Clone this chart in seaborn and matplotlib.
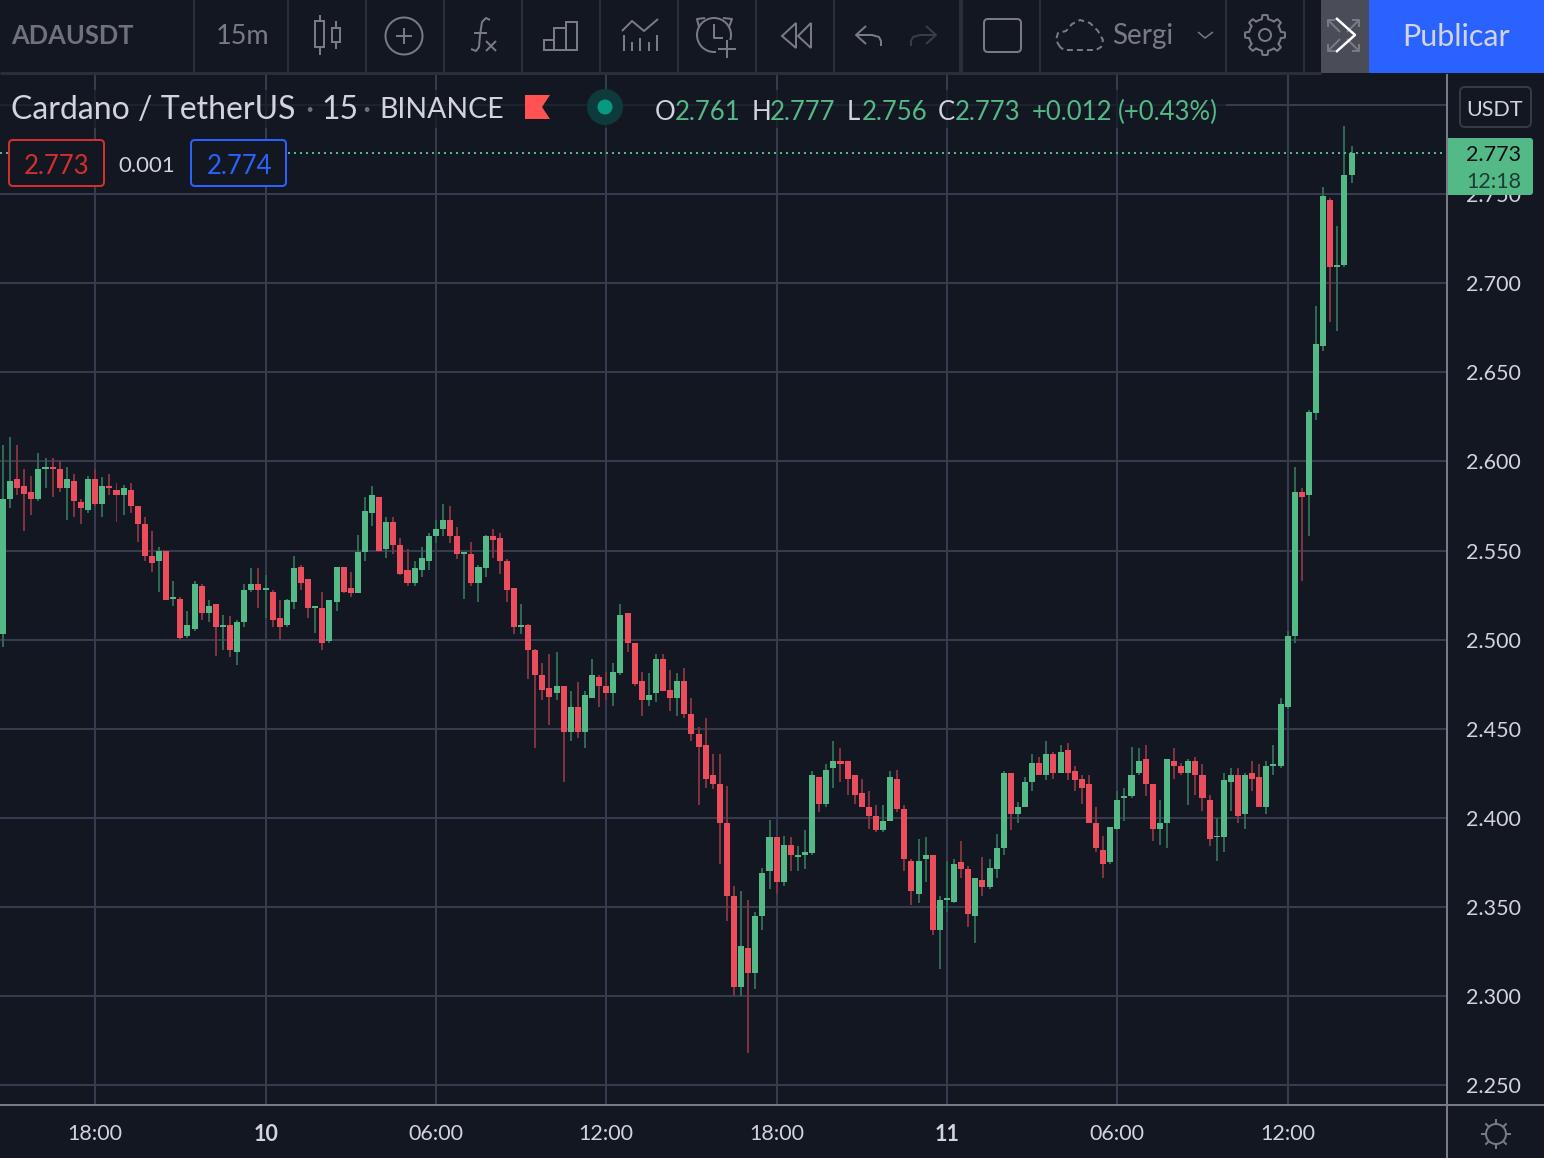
import numpy as np
import pandas as pd
import matplotlib
matplotlib.use("Agg")
import matplotlib.pyplot as plt
from matplotlib.patches import Rectangle, Circle, FancyBboxPatch, Polygon
import seaborn as sns

# ADAUSDT 15m candles
opens = [2.503,2.579,2.590,2.586,2.583,2.579,2.596,2.597,2.596,2.585,
         2.589,2.577,2.573,2.590,2.576,2.586,2.584,2.581,2.584,2.575,
         2.565,2.547,2.544,2.550,2.523,2.523,2.502,2.506,2.530,2.515,
         2.520,2.507,2.508,2.493,2.510,2.528,2.531,2.528,2.527,2.512,
         2.508,2.521,2.541,2.534,2.518,2.518,2.499,2.521,2.541,2.529,
         2.526,2.549,2.571,2.580,2.551,2.566,2.553,2.539,2.532,2.539,
         2.544,2.558,2.562,2.567,2.558,2.548,2.548,2.532,2.540,2.558,
         2.557,2.544,2.529,2.507,2.508,2.494,2.480,2.473,2.470,2.474,
         2.448,2.462,2.448,2.467,2.479,2.474,2.470,2.481,2.515,2.498,
         2.477,2.466,2.470,2.489,2.472,2.467,2.477,2.458,2.447,2.441,
         2.424,2.419,2.397,2.356,2.305,2.327,2.313,2.345,2.370,2.389,
         2.364,2.385,2.378,2.379,2.380,2.423,2.408,2.428,2.432,2.432,
         2.424,2.414,2.406,2.401,2.393,2.398,2.422,2.405,2.376,2.357,
         2.377,2.379,2.337,2.354,2.353,2.375,2.371,2.345,2.365,2.361,
         2.371,2.383,2.425,2.402,2.406,2.420,2.431,2.424,2.436,2.425,
         2.438,2.426,2.422,2.419,2.397,2.382,2.375,2.394,2.411,2.412,
         2.425,2.433,2.419,2.394,2.397,2.432,2.429,2.425,2.432,2.424,
         2.410,2.389,2.389,2.420,2.424,2.402,2.425,2.423,2.406,2.429,
         2.429,2.462,2.502,2.583,2.581,2.627,2.665,2.747,2.709,2.710,2.761]
highs = [2.609,2.614,2.609,2.596,2.592,2.605,2.602,2.602,2.600,2.597,
         2.593,2.579,2.592,2.596,2.591,2.593,2.588,2.587,2.588,2.575,
         2.569,2.561,2.552,2.550,2.533,2.524,2.516,2.533,2.531,2.522,
         2.520,2.514,2.513,2.511,2.531,2.540,2.540,2.536,2.528,2.522,
         2.523,2.547,2.542,2.534,2.519,2.527,2.522,2.541,2.541,2.538,
         2.559,2.580,2.586,2.580,2.569,2.569,2.557,2.551,2.544,2.552,
         2.560,2.567,2.576,2.575,2.563,2.549,2.555,2.542,2.559,2.562,
         2.560,2.545,2.529,2.520,2.509,2.495,2.487,2.492,2.493,2.474,
         2.471,2.476,2.471,2.489,2.480,2.482,2.487,2.520,2.515,2.498,
         2.482,2.481,2.492,2.492,2.483,2.481,2.484,2.467,2.451,2.456,
         2.436,2.436,2.418,2.362,2.359,2.354,2.347,2.372,2.399,2.389,
         2.390,2.389,2.384,2.393,2.426,2.423,2.430,2.443,2.439,2.432,
         2.424,2.422,2.415,2.407,2.407,2.426,2.427,2.407,2.377,2.388,
         2.389,2.379,2.356,2.376,2.377,2.387,2.373,2.366,2.378,2.377,
         2.391,2.426,2.425,2.409,2.423,2.436,2.434,2.443,2.437,2.441,
         2.442,2.429,2.424,2.424,2.406,2.390,2.395,2.415,2.417,2.440,
         2.439,2.441,2.419,2.410,2.433,2.439,2.431,2.433,2.434,2.430,
         2.413,2.400,2.425,2.428,2.428,2.425,2.432,2.430,2.432,2.441,
         2.467,2.505,2.597,2.585,2.629,2.687,2.754,2.748,2.732,2.788,2.777]
lows = [2.496,2.574,2.581,2.561,2.570,2.578,2.585,2.580,2.583,2.567,
        2.569,2.565,2.571,2.575,2.569,2.581,2.566,2.570,2.571,2.555,
        2.544,2.538,2.527,2.522,2.519,2.500,2.501,2.505,2.511,2.510,
        2.491,2.494,2.490,2.486,2.507,2.527,2.518,2.512,2.507,2.500,
        2.507,2.517,2.528,2.512,2.504,2.494,2.498,2.516,2.526,2.524,
        2.526,2.544,2.564,2.549,2.546,2.548,2.536,2.530,2.530,2.535,
        2.539,2.554,2.558,2.554,2.545,2.523,2.530,2.521,2.535,2.546,
        2.537,2.521,2.503,2.503,2.478,2.439,2.466,2.452,2.466,2.420,
        2.443,2.445,2.439,2.467,2.462,2.466,2.463,2.480,2.493,2.474,
        2.457,2.463,2.465,2.471,2.460,2.457,2.456,2.443,2.407,2.417,
        2.416,2.374,2.342,2.300,2.300,2.268,2.304,2.337,2.360,2.357,
        2.362,2.370,2.370,2.371,2.379,2.403,2.406,2.417,2.420,2.413,
        2.408,2.406,2.394,2.392,2.392,2.398,2.403,2.370,2.351,2.352,
        2.364,2.334,2.315,2.347,2.352,2.366,2.339,2.330,2.356,2.360,
        2.366,2.379,2.393,2.397,2.406,2.415,2.424,2.421,2.422,2.425,
        2.421,2.415,2.408,2.397,2.381,2.366,2.374,2.393,2.398,2.411,
        2.424,2.412,2.387,2.385,2.383,2.422,2.424,2.407,2.413,2.404,
        2.384,2.376,2.381,2.404,2.397,2.394,2.415,2.406,2.402,2.424,
        2.428,2.461,2.498,2.533,2.558,2.623,2.662,2.678,2.673,2.709,2.756]
closes = [2.579,2.589,2.585,2.582,2.579,2.596,2.597,2.596,2.585,2.590,
          2.578,2.574,2.590,2.576,2.586,2.585,2.581,2.585,2.575,2.565,
          2.547,2.543,2.550,2.522,2.524,2.501,2.508,2.531,2.515,2.519,
          2.507,2.508,2.494,2.510,2.528,2.531,2.528,2.529,2.511,2.507,
          2.522,2.540,2.532,2.518,2.519,2.498,2.522,2.541,2.527,2.526,
          2.549,2.572,2.581,2.550,2.566,2.553,2.537,2.532,2.540,2.546,
          2.558,2.562,2.567,2.558,2.548,2.549,2.532,2.541,2.558,2.556,
          2.544,2.528,2.507,2.508,2.494,2.480,2.472,2.468,2.474,2.448,
          2.462,2.448,2.469,2.480,2.474,2.470,2.482,2.514,2.498,2.475,
          2.466,2.469,2.489,2.471,2.467,2.477,2.458,2.447,2.440,2.422,
          2.419,2.397,2.356,2.305,2.328,2.313,2.345,2.369,2.389,2.364,
          2.385,2.379,2.379,2.381,2.424,2.408,2.427,2.432,2.430,2.422,
          2.413,2.406,2.401,2.393,2.398,2.423,2.405,2.377,2.359,2.376,
          2.379,2.337,2.354,2.355,2.374,2.371,2.346,2.366,2.361,2.372,
          2.383,2.425,2.402,2.406,2.420,2.431,2.424,2.436,2.425,2.437,
          2.425,2.421,2.417,2.397,2.383,2.374,2.395,2.410,2.412,2.424,
          2.432,2.419,2.394,2.397,2.433,2.429,2.425,2.432,2.424,2.411,
          2.388,2.390,2.421,2.424,2.401,2.424,2.422,2.406,2.429,2.430,
          2.464,2.502,2.583,2.580,2.628,2.666,2.749,2.709,2.710,2.761,2.773]

price_ticks = [2.25, 2.30, 2.35, 2.40, 2.45, 2.50, 2.55, 2.60, 2.65, 2.70, 2.75, 2.80]
price_labels = ["2.250", "2.300", "2.350", "2.400", "2.450", "2.500", "2.550", "2.600",
                "2.650", "2.700", "2.750", ""]
time_ticks = [13, 37, 61, 85, 109, 133, 157, 181]
time_labels = ["18:00", "10", "06:00", "12:00", "18:00", "11", "06:00", "12:00"]

BG = "#131722"
UP = "#53b987"
DOWN = "#eb4d5c"
UP_WICK = "#2f6753"
DOWN_WICK = "#7f323f"
GRID = "#363c4e"
TXT = "#d1d4dc"
ICON = "#787b86"
BORDER = "#787b86"

W, H = 1544, 1158
PX = 0.72  # one pixel in points at dpi 100

sns.set_theme(style="darkgrid", rc={
    "figure.facecolor": BG, "axes.facecolor": BG, "savefig.facecolor": BG,
    "grid.color": GRID, "grid.linewidth": 2 * PX,
    "axes.edgecolor": BG, "text.color": TXT,
    "xtick.color": TXT, "ytick.color": TXT,
})
plt.rcParams["font.family"] = ["Lato", "DejaVu Sans"]

df = pd.DataFrame({"open": opens, "high": highs, "low": lows, "close": closes})
df["bar"] = df.index
df["wick"] = df["high"] - df["low"]
df["body"] = (df["close"] - df["open"]).abs()
df["body_low"] = df[["open", "close"]].min(axis=1)
up = df[df["close"] >= df["open"]]
down = df[df["close"] < df["open"]]

fig = plt.figure(figsize=(W / 100, H / 100), dpi=100)
ax = fig.add_axes([0, (H - 1105) / H, 1447 / W, (1105 - 74) / H])

# wicks first, bodies on top
for col, width, base, up_col, down_col in [
        ("wick", 0.28, "low", UP_WICK, DOWN_WICK),
        ("body", 0.85, "body_low", UP, DOWN)]:
    sns.barplot(data=up, x="bar", y=col, bottom=up[base].values, native_scale=True,
                width=width, color=up_col, saturation=1, errorbar=None, linewidth=0, ax=ax)
    sns.barplot(data=down, x="bar", y=col, bottom=down[base].values, native_scale=True,
                width=width, color=down_col, saturation=1, errorbar=None, linewidth=0, ax=ax)

step = 7.098
left = 13 - 95.2 / step
ax.set_xlim(left, left + 1447 / step)
ax.set_ylim(2.25 - 19.9 / 1782.2, 2.7 + 209.3 / 1782.2)
ax.set_axisbelow(True)
ax.grid(True)
ax.set_xlabel("")
ax.set_ylabel("")
ax.yaxis.tick_right()
ax.set_yticks(price_ticks, price_labels)
ax.set_xticks(time_ticks, time_labels)
ax.tick_params(axis="y", length=0, pad=13.5, labelsize=15.5)
ax.tick_params(axis="x", length=0, pad=14, labelsize=15.5)
for lab in ax.get_xticklabels():
    if lab.get_text() in ("10", "11"):
        lab.set_fontweight("bold")
for s in ax.spines.values():
    s.set_visible(False)

# last price line
ax.axhline(closes[-1], color=UP, lw=2 * PX, ls=(0, (1, 2)), zorder=1.5)

# overlay in pixels for the TradingView chrome
top = fig.add_axes([0, 0, 1, 1])
top.set_xlim(0, W)
top.set_ylim(H, 0)
top.axis("off")
top.patch.set_visible(False)


def line(xs, ys, color=ICON, lw=2, **kw):
    top.plot(xs, ys, color=color, lw=lw * PX, solid_capstyle="butt", **kw)


def rect(x0, y0, x1, y1, **kw):
    top.add_patch(Rectangle((x0, y0), x1 - x0, y1 - y0, linewidth=kw.pop("lw", 0), **kw))


def label(x, y, s, size=16, color=TXT, ha="left", **kw):
    # Lato sits about 2px high with va=center
    top.text(x, y + 2, s, fontsize=size, color=color, ha=ha, va="center", **kw)


# frame lines
line([1447, 1447], [74, H], color=BORDER)
line([0, W], [1105, 1105], color=BORDER)
line([0, 1321], [73, 73], color="#2a2e39", lw=3)
for sx in [194, 288, 366, 444, 522, 600, 678, 756, 834, 1040, 1226, 1304]:
    line([sx, sx], [0, 72], color="#2a2e39")
line([961, 961], [0, 72], color="#2a2e39", lw=4)

# publish button and grey tile
rect(1369, 0, W, 73, facecolor="#2962ff")
rect(1321, 0, 1369, 73, facecolor="#4a4d57")
label(1456, 35, "Publicar", size=22, color="#d1d4dc", ha="center")
for a, b, c, d in [(1328, 20, 1340, 32), (1359, 20, 1347, 32), (1328, 51, 1340, 39), (1359, 51, 1347, 39)]:
    line([a, c], [b, d], color="#787b86")
    sx = 1 if c > a else -1
    sy = 1 if d > b else -1
    line([a + 7 * sx, a, a], [b, b, b + 7 * sy], color="#787b86")
line([1336, 1355, 1336], [18, 35, 52], color="white", lw=2.5)

# toolbar text
label(11, 34, "ADAUSDT", size=18.4, color="#6f727c", fontweight="bold")
label(216, 34, "15m", size=19.5, color=ICON)
label(1112, 34, "Sergi", size=20, color=ICON)

# candle icon
top.add_patch(Rectangle((315, 21), 9, 26, fill=False, ec=ICON, lw=2 * PX))
line([320, 320], [15, 21])
line([320, 320], [47, 55])
top.add_patch(Rectangle((332, 28), 8, 14, fill=False, ec=ICON, lw=2 * PX))
line([336, 336], [21, 28])
line([336, 336], [42, 49])
# plus in a circle
top.add_patch(Circle((404, 36), 18.5, fill=False, ec=ICON, lw=2 * PX))
line([396, 412], [36, 36])
line([404, 404], [28, 44])
# f(x)
line([490, 486, 482, 480, 479, 476, 471], [20, 18, 22, 35, 47, 51, 49], lw=2)
line([474, 487], [33, 33])
line([486, 496], [41, 51])
line([496, 486], [41, 51])
# bars
top.add_patch(Rectangle((544, 40), 10, 10, fill=False, ec=ICON, lw=2 * PX))
top.add_patch(Rectangle((554, 28), 12, 22, fill=False, ec=ICON, lw=2 * PX))
top.add_patch(Rectangle((566, 22), 11, 28, fill=False, ec=ICON, lw=2 * PX))
# templates
line([622, 632, 644, 658], [31, 21, 31, 19])
for bx, by in zip([624, 632, 640, 649, 657], [35, 42, 38, 42, 35]):
    line([bx, bx], [by, 51])
# alarm
top.add_patch(Circle((714, 35), 17, fill=False, ec=ICON, lw=2 * PX))
line([714, 714, 723], [24, 38, 38])
line([699, 697, 705], [27, 19, 18])
line([729, 732, 723], [27, 19, 18])
rect(716, 40, 738, 58, facecolor=BG)
line([718, 736], [49, 49])
line([727, 727], [40, 58])
# replay
top.add_patch(Polygon([(796, 23), (782, 36), (796, 48)], fill=False, ec=ICON, lw=2 * PX))
top.add_patch(Polygon([(811, 23), (798, 36), (811, 48)], fill=False, ec=ICON, lw=2 * PX))
# undo redo
line([866, 856, 866], [26, 35, 44])
line([856, 872, 879, 881, 881], [35, 35, 37, 41, 46])
line([926, 936, 926], [26, 35, 44], color="#3a3d47")
line([936, 920, 913, 911, 911], [35, 35, 37, 41, 46], color="#3a3d47")
# square
top.add_patch(FancyBboxPatch((988, 23), 29, 25, boxstyle="round,pad=4", fill=False, ec=ICON, lw=2 * PX))
# cloud
line([1060, 1056, 1058, 1066, 1072, 1080, 1090, 1098, 1103, 1101, 1096, 1064, 1060],
     [47, 40, 33, 31, 24, 20, 23, 31, 40, 47, 50, 50, 47], ls=(0, (3, 2)))
line([1198, 1205, 1213], [32, 38, 32], lw=1.5)
# gear
ang = np.linspace(0, 2 * np.pi, 97)
rad = 16 + 4 * (np.cos(8 * ang) > 0.2)
top.plot(1265 + rad * np.sin(ang), 35 + rad * np.cos(ang), color=ICON, lw=2 * PX)
top.add_patch(Circle((1265, 35), 6, fill=False, ec=ICON, lw=2 * PX))

# legend row, dimmed band behind it
rect(0, 90, 1226, 128, facecolor=BG, alpha=0.7)
label(11, 108, "Cardano / TetherUS", size=23)
label(309, 108, "·", size=23, color="#6f727c", ha="center")
label(321, 108, "15", size=23)
label(366, 108, "·", size=23, color="#6f727c", ha="center")
label(379, 108, "BINANCE", size=20.5)
top.add_patch(Polygon([(525, 95), (550, 95), (542, 107), (550, 119), (525, 119)], facecolor="#ff5252", lw=0))
top.add_patch(Circle((605, 107), 18, facecolor="#0f3a3c", lw=0))
top.add_patch(Circle((605, 107), 7.5, facecolor="#089981", lw=0))

for x, s, col in [(655, "O", TXT), (675, "2.761", UP), (752, "H", TXT), (770, "2.777", UP),
                  (847, "L", TXT), (862, "2.756", UP), (938, "C", TXT), (955, "2.773", UP),
                  (1032, "+0.012", UP), (1118, "(+0.43%)", UP)]:
    label(x, 110, s, size=18.5, color=col)

# bid ask boxes
top.add_patch(FancyBboxPatch((13, 144), 87, 38, boxstyle="round,pad=4", facecolor=BG, ec="#d32f2f", lw=2 * PX))
label(57, 164, "2.773", size=18.5, color="#d32f2f", ha="center")
rect(105, 146, 191, 182, facecolor=BG)
label(147, 164, "0.001", size=16, ha="center")
top.add_patch(FancyBboxPatch((195, 144), 87, 38, boxstyle="round,pad=4", facecolor=BG, ec="#2962ff", lw=2 * PX))
label(239, 164, "2.774", size=18.5, color="#2962ff", ha="center")

# right side boxes
top.add_patch(FancyBboxPatch((1465, 92), 61, 30, boxstyle="round,pad=5", facecolor=BG, ec="#363a45", lw=2 * PX))
label(1495, 108, "USDT", size=15.5, ha="center")
top.add_patch(FancyBboxPatch((1452, 141), 78, 51, boxstyle="round,pad=3", facecolor=UP, lw=0, zorder=3))
rect(1448, 138, 1460, 195, facecolor=UP, zorder=3)
label(1494, 153, "2.773", size=15.5, color="#0b0e14", ha="center", zorder=5)
label(1494, 180, "12:18", size=15.5, color="#1f3d33", ha="center", zorder=5)

# sun icon
top.add_patch(Circle((1496, 1134), 10, fill=False, ec=ICON, lw=2 * PX))
for a in np.arange(8) * np.pi / 4:
    line([1496 + 10 * np.cos(a), 1496 + 15 * np.cos(a)], [1134 + 10 * np.sin(a), 1134 + 15 * np.sin(a)])

top.set_xlim(0, W)
top.set_ylim(H, 0)
fig.savefig("out.png", dpi=100)
